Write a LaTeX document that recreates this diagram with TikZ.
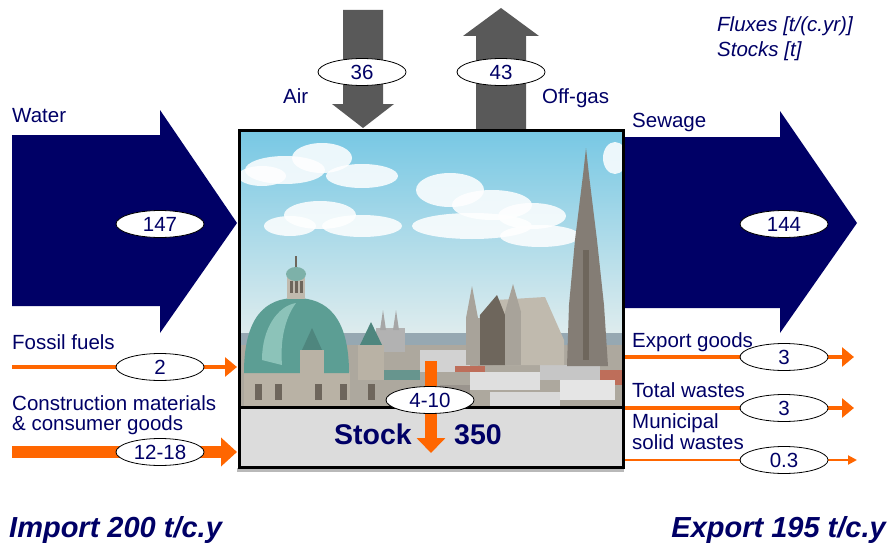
\documentclass[tikz,border=0pt]{standalone}
\usepackage{fontspec}
\setmainfont{Liberation Sans}
\usetikzlibrary{arrows.meta,shapes.geometric}
\definecolor{navy}{RGB}{0,0,102}
\definecolor{flowor}{RGB}{255,102,0}
\definecolor{airgray}{RGB}{89,89,89}
\definecolor{stockgray}{RGB}{220,220,220}
\definecolor{skytop}{RGB}{120,200,228}
\definecolor{skybot}{RGB}{228,238,238}
\definecolor{domegreen}{RGB}{92,158,148}
\definecolor{domelight}{RGB}{140,195,185}
\definecolor{stone}{RGB}{185,178,165}
\definecolor{darkstone}{RGB}{110,102,92}
\definecolor{roofred}{RGB}{190,110,90}
\definecolor{haze}{RGB}{150,168,178}
\tikzset{
  val/.style={ellipse, draw=black, line width=0.8pt, fill=white, minimum width=88pt,
    minimum height=27pt, inner sep=0pt, text=navy, font=\fontsize{20.5}{20.5}\selectfont},
  lbl/.style={anchor=base west, inner sep=0pt, text=navy, font=\fontsize{20.5}{20.5}\selectfont},
  lbli/.style={lbl, font=\fontsize{20.5}{20.5}\selectfont\itshape},
  total/.style={inner sep=0pt, text=navy, font=\fontsize{29}{29}\selectfont\bfseries\itshape},
  bigflow/.style={fill=navy},
  gasflow/.style={fill=airgray},
  midflow/.style={draw=flowor, line width=4pt, -{Triangle[length=12pt,width=19pt]}},
  thickflow/.style={draw=flowor, line width=12pt, -{Triangle[length=16pt,width=28pt]}},
  thinflow/.style={draw=flowor, line width=2pt, -{Triangle[length=9pt,width=9pt]}},
  stockflow/.style={draw=flowor, line width=12pt, -{Triangle[length=15pt,width=28pt]}},
}
\begin{document}
\begin{tikzpicture}[x=1pt,y=-1pt]
\useasboundingbox (0,0) rectangle (892,543);

% ---------- big flows ----------
\fill[bigflow] (12,135) -- (160,135) -- (160,110) -- (237,223) -- (160,333) -- (160,306) -- (12,306) -- cycle;
\fill[bigflow] (625,137) -- (780,137) -- (780,111) -- (857,223) -- (780,333) -- (780,308) -- (625,308) -- cycle;
\fill[gasflow] (343,10) -- (383,10) -- (383,104) -- (394,104) -- (363,128) -- (332,104) -- (343,104) -- cycle;
\fill[gasflow] (476,131) -- (476,36) -- (463,36) -- (501,8) -- (539,36) -- (526,36) -- (526,131) -- cycle;

% ---------- photo of the city (stylised) ----------
\fill[gray!55] (237,468) rectangle (624,472);
\begin{scope}
\clip (241,132) rectangle (622,406);
\shade[top color=skytop, bottom color=skybot] (241,132) rectangle (622,345);
% clouds
\begin{scope}[white, opacity=0.85]
\fill (285,170) ellipse (40 and 14);
\fill (322,158) ellipse (30 and 15);
\fill (362,176) ellipse (36 and 12);
\fill (262,176) ellipse (24 and 10);
\fill (450,190) ellipse (34 and 17);
\fill (492,205) ellipse (40 and 15);
\fill (532,216) ellipse (34 and 13);
\fill (472,226) ellipse (60 and 13);
\fill (540,236) ellipse (40 and 11);
\fill (320,215) ellipse (36 and 14);
\fill (362,226) ellipse (40 and 11);
\fill (290,226) ellipse (26 and 10);
\fill (615,158) ellipse (12 and 16);
\end{scope}
% far city
\fill[haze] (241,333) rectangle (622,350);
% rooftops
\fill[stone!80!gray] (241,345) rectangle (622,406);
\fill[gray!35] (420,350) rectangle (470,372);
\fill[roofred] (455,366) rectangle (485,372);
\fill[gray!25] (470,372) rectangle (540,390);
\fill[gray!45] (540,365) rectangle (600,380);
\fill[roofred] (600,370) rectangle (622,385);
\fill[gray!20] (560,380) rectangle (615,400);
\fill[darkstone!70] (440,385) rectangle (470,400);
\fill[gray!30] (490,392) rectangle (560,406);
\fill[domegreen!70!gray] (370,370) rectangle (420,380);
% small twin towers
\fill[gray!60] (376,328) rectangle (405,352);
\fill[gray!70] (380,330) -- (383,310) -- (386,330) -- cycle;
\fill[gray!70] (393,330) -- (396,310) -- (399,330) -- cycle;
% cathedral
\fill[stone!90!white] (493,365) -- (496,300) -- (545,297) -- (564,340) -- (564,365) -- cycle;
\fill[darkstone] (478,365) -- (480,315) -- (497,295) -- (505,315) -- (505,365) -- cycle;
\fill[stone!70!gray] (466,365) rectangle (480,318);
\fill[stone!70!gray] (466,318) -- (472,286) -- (478,318) -- cycle;
\fill[stone!70!gray] (505,365) rectangle (521,312);
\fill[stone!70!gray] (505,312) -- (513,284) -- (521,312) -- cycle;
% spire
\fill[darkstone!85!white] (567,366) -- (569,305) -- (575,240) -- (583,175) -- (586,148) -- (589,175) -- (597,240) -- (604,305) -- (608,366) -- cycle;
\fill[darkstone] (583,250) rectangle (589,360);
% dome church
\fill[stone] (244,372) rectangle (350,406);
\fill[domegreen] (244,373) .. controls (244,316) and (266,298) .. (296,298)
  .. controls (326,298) and (349,316) .. (349,373) -- cycle;
\fill[domelight] (262,360) .. controls (262,328) and (278,306) .. (296,303)
  .. controls (285,318) and (280,340) .. (282,365) -- cycle;
\fill[stone!90!white] (287,275) rectangle (305,299);
\foreach \lx in {290,295,300}
  \fill[darkstone] (\lx,281) rectangle (\lx+3,293);
\fill[domegreen!80!white] (296,274) ellipse (10 and 7);
\draw[darkstone, line width=1.2pt] (296,267) -- (296,256);
\fill[domegreen!85!black] (302,350) -- (312,328) -- (322,350) -- cycle;
\fill[stone] (300,350) rectangle (324,380);
\fill[domegreen!85!black] (360,345) -- (371,322) -- (382,345) -- cycle;
\fill[stone] (358,345) rectangle (384,380);
\foreach \wx in {255,275,315,340,368}
  \fill[darkstone] (\wx,384) rectangle (\wx+7,400);
\end{scope}
% stock part
\fill[stockgray] (241,408) rectangle (622,466);
\draw[black, line width=3pt] (239.5,130.5) rectangle (623.5,467.5);
\draw[black, line width=3pt] (239.5,407) -- (623.5,407);

% ---------- stock ----------
\node[anchor=base, inner sep=0pt, text=navy, font=\fontsize{28.5}{28.5}\selectfont\bfseries] (stock) at (373,444) {Stock};
\node[anchor=base, inner sep=0pt, text=navy, font=\fontsize{28.5}{28.5}\selectfont\bfseries] (stockval) at (478,444) {350};
\coordinate (accS) at (431,361);
\coordinate (accE) at (431,453);
\draw[stockflow] (accS) -- (accE);
\node[val] (acc) at (430,400) {4-10};

% ---------- orange flows ----------
\coordinate (ffS) at (12,367);   \coordinate (ffE) at (237,367);
\coordinate (cmS) at (12,452);   \coordinate (cmE) at (237,452);
\coordinate (egS) at (625,357);  \coordinate (egE) at (854,357);
\coordinate (twS) at (625,408);  \coordinate (twE) at (854,408);
\coordinate (mwS) at (625,460);  \coordinate (mwE) at (857,460);
\draw[midflow] (ffS) -- (ffE);
\draw[thickflow] (cmS) -- (cmE);
\draw[midflow] (egS) -- (egE);
\draw[midflow] (twS) -- (twE);
\draw[thinflow] (mwS) -- (mwE);

% ---------- values ----------
\node[val] (air) at (362,72) {36};
\node[val] (gas) at (501,72) {43};
\node[val] (water) at (160,224) {147};
\node[val] (sewage) at (784,224) {144};
\node[val] (fossil) at (160,367) {2};
\node[val] (constr) at (160,452) {12-18};
\node[val] (export) at (784,357) {3};
\node[val] (wastes) at (784,408) {3};
\node[val] (msw) at (784,460) {0.3};

% ---------- labels ----------
\node[lbl] (lwater) at (12,122) {Water};
\node[lbl] (lair) at (283,103) {Air};
\node[lbl] (lgas) at (542,103) {Off-gas};
\node[lbl] (lsew) at (632,128) {Sewage};
\node[lbli] (lflux) at (717,32) {Fluxes [t/(c.yr)]};
\node[lbli] (lstock) at (717,57) {Stocks [t]};
\node[lbl] (lfossil) at (12,349) {Fossil fuels};
\node[lbl, align=left, font=\fontsize{20.5}{20}\selectfont] (lconstr) at (12,430) {Construction materials\\\& consumer goods};
\node[lbl] (lexport) at (632,347) {Export goods};
\node[lbl] (lwastes) at (632,397) {Total wastes};
\node[lbl, align=left, font=\fontsize{20.5}{18}\selectfont] (lmsw) at (632,449) {Municipal\\solid wastes};
\node[total, anchor=base west] (import) at (9,537) {Import 200 t/c.y};
\node[total, anchor=base east] (exportt) at (886,537) {Export 195 t/c.y};
\end{tikzpicture}
\end{document}
